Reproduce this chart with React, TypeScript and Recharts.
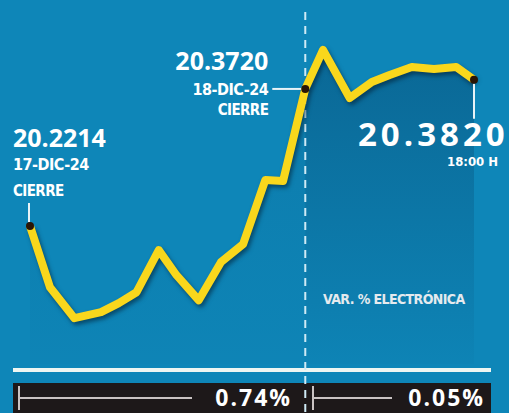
import { ComposedChart, Line, Area, XAxis, YAxis, ReferenceLine } from "recharts";

// session time index (0 = prior close, 62 = 18-dic close, 100 = 18:00 h)
const times = [0, 4.5, 10, 16, 20, 24, 29, 33, 38, 43, 48, 53, 57, 62, 66, 72, 77, 81, 86, 91, 96, 100];
const prices = [
  20.2214, 20.1543, 20.1203, 20.1269, 20.1368, 20.1488, 20.195, 20.1675, 20.14, 20.1818, 20.2016,
  20.272, 20.2709, 20.372, 20.4149, 20.3621, 20.3797, 20.3874, 20.3962, 20.394, 20.3962, 20.382,
];
const closeTime = 62;
const changes = ["0.74%", "0.05%"];
const electronicLabel = "VAR. % ELECTRÓNICA";

const data = times.map((t, i) => ({
  t,
  price: prices[i],
  before: t <= closeTime ? prices[i] : null,
  after: t >= closeTime ? prices[i] : null,
}));

const BG = "#0e86b8";
const YELLOW = "#f9d71c";
const NUM_FONT = "'Open Sans', sans-serif";
const SMALL_FONT = "'DejaVu Sans Condensed', 'DejaVu Sans', sans-serif";

const renderDot = (props: any) => {
  const { cx, cy, index } = props;
  if (index === 0) {
    return (
      <g key="d0">
        <line x1={cx - 1} x2={cx - 1} y1={cy - 23} y2={cy - 4} stroke="#e8f3f7" strokeWidth={2} />
        <circle cx={cx} cy={cy} r={4} fill="#2a1505" />
        <text x={cx - 17} y={cy - 79} fill="#fff" fontFamily={NUM_FONT} fontWeight={700} fontSize={25}>20.2214</text>
        <text x={cx - 17} y={cy - 56} fill="#fff" fontFamily={SMALL_FONT} fontWeight={700} fontSize={16} letterSpacing={-0.5}>17-DIC-24</text>
        <text x={cx - 17} y={cy - 30} fill="#fff" fontFamily={SMALL_FONT} fontWeight={700} fontSize={15} letterSpacing={-0.6}>CIERRE</text>
      </g>
    );
  }
  if (index === times.indexOf(closeTime)) {
    return (
      <g key="d1">
        <line x1={cx - 33} x2={cx - 4} y1={cy} y2={cy} stroke="#e8f3f7" strokeWidth={2} />
        <circle cx={cx} cy={cy} r={4} fill="#2a1505" />
        <text x={cx - 37} y={cy - 19} textAnchor="end" fill="#fff" fontFamily={NUM_FONT} fontWeight={700} fontSize={25}>20.3720</text>
        <text x={cx - 37} y={cy + 6} textAnchor="end" fill="#fff" fontFamily={SMALL_FONT} fontWeight={700} fontSize={16} letterSpacing={-0.5}>18-DIC-24</text>
        <text x={cx - 37} y={cy + 26} textAnchor="end" fill="#fff" fontFamily={SMALL_FONT} fontWeight={700} fontSize={15} letterSpacing={-0.6}>CIERRE</text>
      </g>
    );
  }
  if (index === times.length - 1) {
    return (
      <g key="d2">
        <line x1={cx} x2={cx} y1={cy + 4} y2={cy + 39} stroke="#e8f3f7" strokeWidth={2} />
        <circle cx={cx} cy={cy} r={4} fill="#2a1505" />
        <text x={cx - 116} y={cy + 66} fill="#fff" fontFamily={NUM_FONT} fontWeight={700} fontSize={33} letterSpacing={4}>20.3820</text>
        <text x={cx - 27} y={cy + 86} fill="#fff" fontFamily={SMALL_FONT} fontWeight={700} fontSize={13}>18:00 H</text>
      </g>
    );
  }
  return <g key={`e${index}`} />;
};

const DashShape = (p: any) => (
  <line x1={p.x1} x2={p.x1} y1={12} y2={413} stroke="#cfeaf5" strokeWidth={2} strokeDasharray="8 6" />
);

export default function App() {
  return (
    <div style={{ position: "relative", width: 509, height: 413, background: BG, overflow: "hidden" }}>
      <style>{`body{margin:0} .recharts-line-curve{filter:drop-shadow(2px 3px 2px rgba(0,25,45,0.55))}`}</style>
      {/* bottom strip */}
      <div style={{ position: "absolute", left: 13, top: 368, width: 478, height: 4, background: "#eef6f2" }} />
      <div style={{ position: "absolute", left: 13, top: 383, width: 478, height: 30, background: "#1d1819" }}>
        <div style={{ position: "absolute", left: 5, top: 3, width: 2, height: 24, background: "#c9c2c2" }} />
        <div style={{ position: "absolute", left: 5, top: 14, width: 174, height: 2, background: "#c9c2c2" }} />
        <div style={{ position: "absolute", left: 299, top: 3, width: 2, height: 24, background: "#c9c2c2" }} />
        <div style={{ position: "absolute", left: 299, top: 14, width: 80, height: 2, background: "#c9c2c2" }} />
        <span style={{ position: "absolute", right: 199, top: -2, color: "#fff", fontFamily: NUM_FONT, fontWeight: 700, fontSize: 23, letterSpacing: 2 }}>{changes[0]}</span>
        <span style={{ position: "absolute", right: 6, top: -2, color: "#fff", fontFamily: NUM_FONT, fontWeight: 700, fontSize: 23, letterSpacing: 2 }}>{changes[1]}</span>
      </div>
      <div style={{ position: "absolute", left: 0, top: 0 }}>
        <ComposedChart width={509} height={413} data={data} margin={{ top: 27, right: 35, bottom: 49, left: 30 }}>
          <defs>
            <linearGradient id="gBefore" x1="0" y1="0" x2="0" y2="1">
              <stop offset="0%" stopColor="#053c64" stopOpacity={0.22} />
              <stop offset="100%" stopColor="#053c64" stopOpacity={0.04} />
            </linearGradient>
            <linearGradient id="gAfter" x1="0" y1="0" x2="0" y2="1">
              <stop offset="0%" stopColor="#04385f" stopOpacity={0.65} />
              <stop offset="75%" stopColor="#04385f" stopOpacity={0.2} />
              <stop offset="100%" stopColor="#04385f" stopOpacity={0.05} />
            </linearGradient>
          </defs>
          <XAxis type="number" dataKey="t" domain={[0, 100]} hide />
          <YAxis type="number" domain={[20.07, 20.44]} allowDataOverflow hide />
          <Area type="linear" dataKey="before" stroke="none" fill="url(#gBefore)" isAnimationActive={false} />
          <Area type="linear" dataKey="after" stroke="none" fill="url(#gAfter)" isAnimationActive={false} />
          <ReferenceLine x={closeTime} shape={DashShape} />
          <Line
            type="linear"
            dataKey="price"
            stroke={YELLOW}
            strokeWidth={8}
            strokeLinejoin="round"
            dot={renderDot}
            activeDot={false}
            isAnimationActive={false}
          />
          <text x={323} y={304} fill="#fff" fontFamily={SMALL_FONT} fontWeight={700} fontSize={14} letterSpacing={-0.6}>
            {electronicLabel}
          </text>
        </ComposedChart>
      </div>
    </div>
  );
}
